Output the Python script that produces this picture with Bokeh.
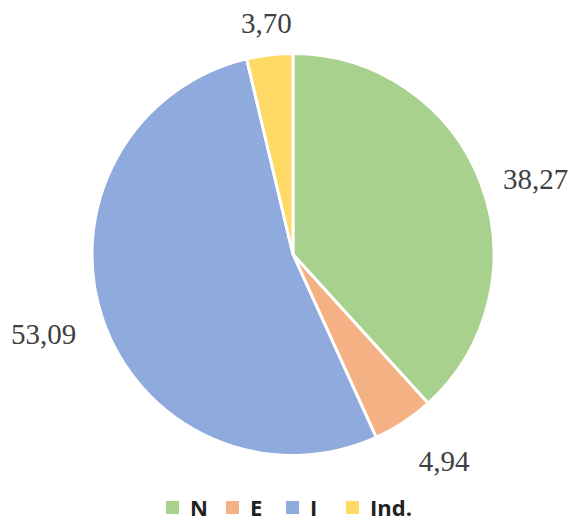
import numpy as np
from bokeh.plotting import figure
from bokeh.models import ColumnDataSource, Range1d, Legend, LegendItem
from bokeh.core.properties import value
from bokeh.embed import file_html
from bokeh.resources import INLINE

categories = ["N", "E", "I", "Ind."]
values = [38.27, 4.94, 53.09, 3.70]
colors = ["#A9D18E", "#F4B183", "#8FAADC", "#FFD966"]

W, H = 574, 522
# data coords = (page_x, 522 - page_y)
p = figure(width=W, height=H, output_backend="svg", toolbar_location=None,
           x_range=Range1d(0, W), y_range=Range1d(0, H),
           min_border=0, outline_line_color=None)
p.axis.visible = False
p.grid.visible = False
p.background_fill_color = "white"

cx, cy, R = 292.5, H - 254, 201
vals = np.array(values)
frac = vals / vals.sum()
cum = np.concatenate([[0], np.cumsum(frac)])
start = np.pi / 2 - cum[:-1] * 2 * np.pi
end = np.pi / 2 - cum[1:] * 2 * np.pi
mid = (start + end) / 2

src = ColumnDataSource(dict(cat=categories, start=start, end=end, color=colors,
                            x=[cx] * 4, y=[cy] * 4))
r = p.wedge(x="x", y="y", radius=R, start_angle="start", end_angle="end",
            direction="clock", fill_color="color", line_color="white",
            line_width=3, source=src)

labels = [f"{v:.2f}".replace(".", ",") for v in values]
fs = 29
for lab, a in zip(labels, mid):
    c, s = np.cos(a), np.sin(a)
    align = "left" if c > 0.3 else ("right" if c < -0.3 else "center")
    base = "bottom" if s > 0.5 else ("top" if s < -0.5 else "middle")
    d = R + (24 if c > 0.3 and base == "middle" else 28)
    p.text(x=[cx + d * c], y=[cy + d * s - 6], text=[lab], text_align=align,
           text_baseline=base, text_font=value("Liberation Serif"),
           text_font_size=f"{fs}px", text_color="#404040")

items = [LegendItem(label=c, renderers=[r], index=i) for i, c in enumerate(categories)]
legend = Legend(items=items, orientation="horizontal", location="bottom_center",
                label_text_font="Open Sans", label_text_font_style="bold",
                label_text_font_size="22px", label_text_color="#222222",
                glyph_width=20, glyph_height=20, label_standoff=8, spacing=12,
                border_line_color=None, background_fill_alpha=0,
                padding=0, margin=0)
p.add_layout(legend, "center")

open("out.html", "w").write(file_html(p, INLINE))
